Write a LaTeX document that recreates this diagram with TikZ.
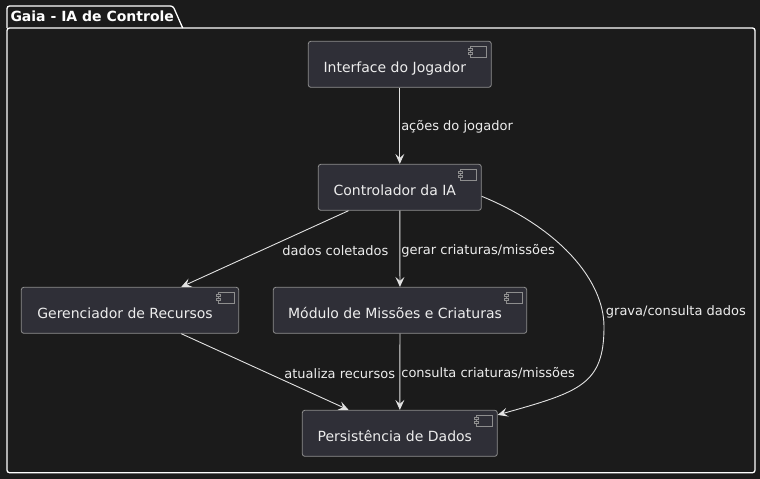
\documentclass[tikz,border=0pt]{standalone}
\usepackage{fontspec}
\setmainfont{DejaVu Sans}
\usetikzlibrary{arrows.meta, calc, positioning}

\definecolor{bgcol}{HTML}{1B1B1B}
\definecolor{boxfill}{HTML}{2F2F37}
\definecolor{boxline}{HTML}{8E8E8E}
\definecolor{linecol}{HTML}{E2E2E2}
\definecolor{txtcol}{HTML}{EDEDED}

\begin{document}
\begin{tikzpicture}[x = 1pt, y = -1pt,
    comp/.style = {draw = boxline, fill = boxfill, rounded corners = 2.5pt, line width = 0.8pt,
                   inner sep = 0pt, minimum height = 46pt, text = txtcol,
                   font = \fontsize{14}{17}\selectfont},
    link/.style = {draw = linecol, line width = 0.9pt,
                   -{Stealth[length = 10pt, width = 9pt, inset = 4pt]}},
    lbl/.style  = {inner sep = 0pt, text = txtcol, yshift = -1.5pt,
                   font = \fontsize{13}{15}\selectfont},
    frame/.style = {draw = white, line width = 1.3pt, rounded corners = 2.5pt}]

    \def\Ctext#1{\rule[-4pt]{0pt}{23.4pt}#1\kern10pt\rule{0pt}{0pt}}

    \fill[bgcol] (0,0) rectangle (760,479);
    \useasboundingbox (0,0) rectangle (760,479);

    % package
    \draw[frame] (7,28) -- (7,6) -- (173,6) -- (182.7,28);
    \draw[frame] (7,28) rectangle (755,472.7);
    \node[anchor = base west, inner sep = 0pt, text = white,
          font = \fontsize{14}{17}\selectfont\bfseries] (gaia) at (10.3,21) {Gaia - IA de Controle};

    % components
    \node[comp, minimum width = 183pt] (iface) at (399.8,64.3)  {\Ctext{Interface do Jogador}};
    \node[comp, minimum width = 163pt] (ctrl)  at (399.8,187.3) {\Ctext{Controlador da IA}};
    \node[comp, minimum width = 217.4pt] (gere) at (130,310.3) {\Ctext{Gerenciador de Recursos}};
    \node[comp, minimum width = 253.4pt] (modu) at (400,310.3) {\Ctext{Módulo de Missões e Criaturas}};
    \node[comp, minimum width = 195pt] (pers)  at (399.8,433.3) {\Ctext{Persistência de Dados}};

    \foreach \NODE in {iface, ctrl, gere, modu, pers}{
        \draw[boxline, line width = 0.7pt] ($(\NODE.north east)+(-21,5.5)$) rectangle ++(16,10.5);
        \foreach \DY in {7.5, 11.5}
            \draw[boxline, fill = boxfill, line width = 0.7pt]
                ($(\NODE.north east)+(-23,\DY)$) rectangle ++(4,2);
    }

    % connectors
    \draw[link] (iface) -- (ctrl)
        node[lbl, midway, anchor = west, xshift = 1pt] {ações do jogador};
    \draw[link] (ctrl) -- (gere)
        node[lbl, midway, anchor = west, xshift = 17pt] {dados coletados};
    \draw[link] (ctrl) -- (modu)
        node[lbl, midway, anchor = west, xshift = 1pt] {gerar criaturas/missões};
    \draw[link] (gere) -- (pers)
        node[lbl, midway, anchor = west, xshift = 19pt] {atualiza recursos};
    \draw[link] (modu) -- (pers)
        node[lbl, midway, anchor = west, xshift = 1pt] {consulta criaturas/missões};

    \coordinate (bend) at (604,326.7);
    \draw[link] ([yshift = -9pt]ctrl.east) .. controls +(78,32) and +(0,-46) .. (bend)
        .. controls +(0,58) and +(82,-23) .. ([yshift = -5pt]pers.north east);
    \node[lbl, anchor = west, xshift = 1.7pt, yshift = 16pt] (grava) at (bend) {grava/consulta dados};

\end{tikzpicture}
\end{document}
